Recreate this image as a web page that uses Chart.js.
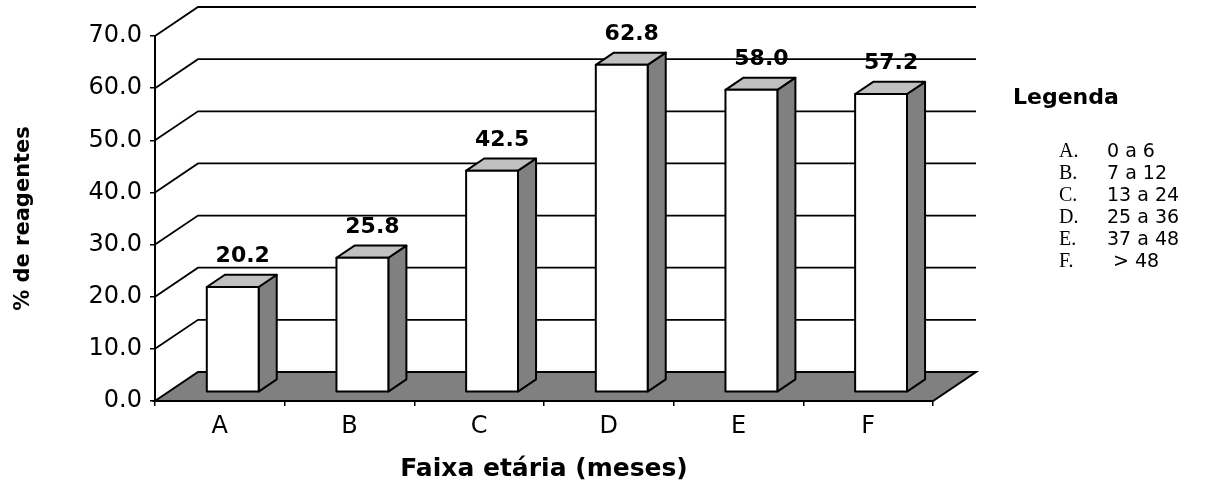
<!DOCTYPE html>
<html>
<head>
<meta charset="utf-8">
<script src="https://cdn.jsdelivr.net/npm/chart.js@4.4.1/dist/chart.umd.min.js"></script>
<style>
  html, body { margin: 0; padding: 0; background: #ffffff; }
  #wrap { width: 1205px; height: 490px; position: relative; }
</style>
</head>
<body>
<div id="wrap"><canvas id="c"></canvas></div>
<script>
// ---- data ----
const categories = ['A', 'B', 'C', 'D', 'E', 'F'];
const values = [20.2, 25.8, 42.5, 62.8, 58.0, 57.2];
const yMin = 0;
const yMax = 70;
const yStep = 10;
const legendTitle = 'Legenda';
const legendLetters = ['A.', 'B.', 'C.', 'D.', 'E.', 'F.'];
const legendRanges = ['0 a 6', '7 a 12', '13 a 24', '25 a 36', '37 a 48', ' > 48'];
const xTitle = 'Faixa etária (meses)';
const yTitle = '% de reagentes';

// ---- styling ----
const SANS = "'DejaVu Sans', Arial, sans-serif";
const SERIF = "'Liberation Serif', 'Times New Roman', serif";
const DEPTH_X = 43, DEPTH_Y = 29;        // 3D depth of the plot
const BAR_FRONT = 0.30, BAR_BACK = 0.72; // bar depth position (fraction)

function poly(ctx, pts, fill) {
  ctx.beginPath();
  ctx.moveTo(pts[0][0], pts[0][1]);
  for (let i = 1; i < pts.length; i++) ctx.lineTo(pts[i][0], pts[i][1]);
  ctx.closePath();
  ctx.fillStyle = fill;
  ctx.fill();
  ctx.stroke();
}

const threeD = {
  id: 'threeD',
  beforeDatasetsDraw(chart) {
    const ctx = chart.ctx, a = chart.chartArea, ys = chart.scales.y;
    ctx.save();
    ctx.strokeStyle = '#000';
    ctx.lineJoin = 'miter';
    // floor
    ctx.lineWidth = 2;
    poly(ctx, [[a.left, a.bottom], [a.right, a.bottom],
               [a.right + DEPTH_X, a.bottom - DEPTH_Y], [a.left + DEPTH_X, a.bottom - DEPTH_Y]], '#808080');
    // side wall diagonals + back wall gridlines
    ctx.lineWidth = 1.8;
    ys.ticks.forEach(t => {
      if (t.value === yMin) return;
      const y = ys.getPixelForValue(t.value);
      ctx.beginPath();
      ctx.moveTo(a.left, y);
      ctx.lineTo(a.left + DEPTH_X, y - DEPTH_Y);
      ctx.lineTo(a.right + DEPTH_X, y - DEPTH_Y);
      ctx.stroke();
    });
    ctx.restore();
  },
  afterDatasetsDraw(chart) {
    const ctx = chart.ctx;
    const meta = chart.getDatasetMeta(0);
    const data = chart.data.datasets[0].data;
    const ox1 = DEPTH_X * BAR_FRONT, oy1 = DEPTH_Y * BAR_FRONT;
    const dx = DEPTH_X * (BAR_BACK - BAR_FRONT), dy = DEPTH_Y * (BAR_BACK - BAR_FRONT);
    ctx.save();
    ctx.strokeStyle = '#000';
    ctx.lineWidth = 2;
    ctx.lineJoin = 'round';
    meta.data.forEach((bar, i) => {
      const p = bar.getProps(['x', 'y', 'base', 'width'], true);
      const l = p.x - p.width / 2 + ox1, r = p.x + p.width / 2 + ox1;
      const t = p.y - oy1, b = p.base - oy1;
      poly(ctx, [[r, t], [r + dx, t - dy], [r + dx, b - dy], [r, b]], '#808080');
      poly(ctx, [[l, t], [r, t], [r + dx, t - dy], [l + dx, t - dy]], '#c0c0c0');
      poly(ctx, [[l, t], [r, t], [r, b], [l, b]], '#ffffff');
      ctx.font = 'bold 22px ' + SANS;
      ctx.fillStyle = '#000';
      ctx.textAlign = 'center';
      ctx.textBaseline = 'alphabetic';
      ctx.fillText(Number(data[i]).toFixed(1), (l + r + dx) / 2 + 1, t - dy - 13);
    });
    ctx.restore();
  },
  afterDraw(chart) {
    const ctx = chart.ctx;
    ctx.save();
    ctx.fillStyle = '#000';
    ctx.textAlign = 'left';
    ctx.textBaseline = 'alphabetic';
    ctx.font = 'bold 22px ' + SANS;
    ctx.fillText(legendTitle, 1013, 104);
    legendLetters.forEach((lt, i) => {
      const y = 157 + i * 22;
      ctx.font = '20px ' + SERIF;
      ctx.fillText(lt, 1059, y);
      ctx.font = '19px ' + SANS;
      ctx.fillText(legendRanges[i], 1107, y);
    });
    ctx.restore();
  }
};

new Chart(document.getElementById('c'), {
  type: 'bar',
  data: {
    labels: categories,
    datasets: [{
      data: values,
      backgroundColor: 'rgba(0,0,0,0)',
      borderWidth: 0,
      barPercentage: 0.4,
      categoryPercentage: 1.0
    }]
  },
  options: {
    responsive: true,
    maintainAspectRatio: false,
    animation: false,
    events: [],
    layout: { padding: { left: 0, right: 272, top: 36, bottom: 0 } },
    plugins: { legend: { display: false }, tooltip: { enabled: false } },
    scales: {
      x: {
        grid: { display: true, drawOnChartArea: false, drawTicks: true, tickLength: 5, color: '#000', lineWidth: 1.5, offset: true },
        border: { display: true, color: '#000', width: 2 },
        ticks: { color: '#000', font: { family: SANS, size: 24 }, padding: 6 },
        title: { display: true, text: xTitle, color: '#000', font: { family: SANS, size: 25, weight: 'bold' }, padding: { top: 0, bottom: 6 } },
        afterFit(s) { s.height = 89; }
      },
      y: {
        min: yMin,
        max: yMax,
        ticks: { stepSize: yStep, color: '#000', font: { family: SANS, size: 24 }, padding: 8, callback: v => Number(v).toFixed(1) },
        grid: { display: true, drawOnChartArea: false, drawTicks: true, tickLength: 5, color: '#000', lineWidth: 1.5 },
        border: { display: true, color: '#000', width: 2 },
        title: { display: true, text: yTitle, color: '#000', font: { family: SANS, size: 21, weight: 'bold' }, padding: { top: 11, bottom: 0 } },
        afterFit(s) { s.width = 155; }
      }
    }
  },
  plugins: [threeD]
});
</script>
</body>
</html>
